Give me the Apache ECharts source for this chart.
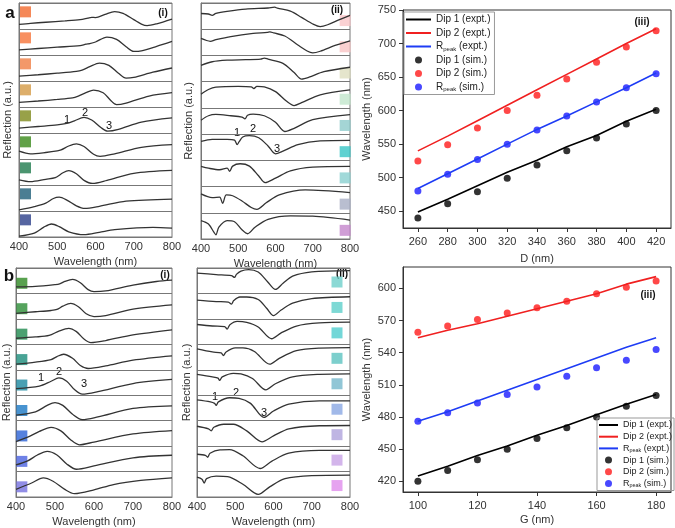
<!DOCTYPE html>
<html><head><meta charset="utf-8">
<script src="https://cdn.jsdelivr.net/npm/echarts@6/dist/echarts.min.js"></script>
<style>html,body{margin:0;padding:0;background:#fff}#c{width:675px;height:528px}</style>
</head><body><div id="c"></div>
<script>
// ---------- Spectra (row-local reflection, 0 = bottom of sub-panel, 1 = top) ----------
const aISpectra = [
 [[400,.18],[430,.22],[470,.26],[520,.31],[560,.36],[580,.42],[590,.45],[600,.44],[625,.56],[650,.67],[672,.6],[700,.36],[720,.19],[735,.13],[760,.2],[800,.38]],
 [[400,.2],[450,.25],[500,.3],[560,.36],[575,.42],[585,.44],[600,.5],[630,.69],[655,.6],[680,.32],[700,.14],[720,.16],[760,.33],[800,.52]],
 [[400,.19],[450,.24],[500,.3],[550,.37],[565,.42],[585,.55],[610,.69],[635,.6],[660,.3],[680,.11],[700,.14],[750,.34],[800,.5]],
 [[400,.18],[450,.23],[500,.29],[540,.35],[555,.42],[575,.55],[595,.65],[620,.55],[640,.25],[655,.09],[680,.15],[740,.42],[800,.55]],
 [[400,.19],[450,.25],[500,.31],[525,.37],[545,.47],[570,.6],[590,.5],[615,.2],[632,.07],[660,.14],[720,.42],[800,.58]],
 [[400,.3],[430,.2],[470,.25],[500,.31],[510,.35],[530,.5],[550,.58],[570,.48],[595,.18],[612,.1],[650,.2],[720,.45],[800,.55]],
 [[400,.2],[430,.13],[470,.22],[495,.28],[515,.47],[530,.55],[550,.43],[570,.18],[592,.06],[630,.18],[700,.45],[800,.56]],
 [[400,.04],[440,.17],[470,.3],[490,.48],[505,.53],[525,.42],[550,.2],[572,.1],[610,.18],[680,.38],[800,.46]],
 [[400,.03],[440,.15],[465,.38],[485,.5],[505,.4],[530,.2],[570,.09],[610,.18],[650,.28],[750,.37],[800,.34]]
];
const aIISpectra = [
 [[400,.6],[420,.58],[430,.53],[440,.6],[470,.68],[520,.77],[580,.81],[598,.84],[605,.8],[640,.69],[670,.45],[700,.2],[720,.1],[740,.17],[770,.36],[800,.53]],
 [[400,.65],[415,.57],[425,.54],[440,.6],[480,.72],[540,.84],[578,.88],[585,.9],[595,.86],[625,.74],[660,.4],[685,.17],[700,.1],[720,.16],[760,.38],[800,.56]],
 [[400,.62],[430,.76],[470,.82],[520,.84],[560,.86],[570,.9],[580,.86],[620,.7],[650,.35],[670,.1],[690,.17],[730,.38],[800,.55]],
 [[400,.52],[420,.7],[440,.79],[500,.82],[535,.8],[542,.74],[550,.82],[570,.8],[600,.62],[630,.25],[650,.09],[670,.2],[720,.5],[800,.69]],
 [[400,.53],[420,.7],[440,.75],[480,.7],[510,.65],[518,.58],[525,.72],[540,.76],[570,.7],[600,.45],[625,.1],[650,.22],[700,.55],[800,.74]],
 [[400,.72],[430,.8],[470,.8],[490,.77],[497,.6],[502,.7],[512,.89],[530,.94],[555,.86],[580,.55],[600,.25],[620,.35],[660,.6],[720,.74],[800,.76]],
 [[400,.77],[420,.7],[450,.64],[470,.7],[477,.58],[485,.78],[505,.87],[530,.78],[555,.4],[572,.15],[600,.32],[640,.6],[700,.74],[800,.77]],
 [[400,.72],[430,.58],[450,.6],[458,.36],[468,.68],[485,.65],[510,.45],[535,.2],[550,.13],[575,.38],[610,.68],[680,.87],[800,.77]],
 [[400,.7],[420,.57],[435,.25],[440,.16],[448,.45],[470,.7],[490,.66],[510,.35],[525,.2],[545,.45],[580,.75],[640,.88],[700,.87],[800,.72]]
];
const bISpectra = [
 [[400,.26],[450,.28],[500,.35],[512,.38],[525,.47],[545,.55],[565,.42],[585,.15],[600,.07],[630,.1],[700,.33],[760,.47],[800,.52]],
 [[400,.22],[450,.28],[490,.33],[505,.37],[520,.5],[540,.61],[560,.48],[580,.2],[600,.09],[630,.13],[700,.38],[800,.55]],
 [[400,.24],[450,.29],[485,.35],[510,.52],[535,.63],[555,.5],[575,.2],[592,.07],[630,.15],[700,.37],[800,.57]],
 [[400,.22],[450,.3],[490,.4],[505,.52],[522,.61],[545,.45],[565,.17],[585,.05],[630,.15],[700,.38],[800,.55]],
 [[400,.26],[460,.36],[490,.55],[510,.68],[530,.55],[550,.22],[570,.04],[610,.14],[700,.46],[800,.62]],
 [[400,.22],[450,.35],[480,.6],[500,.71],[520,.6],[545,.25],[570,.04],[610,.15],[700,.48],[800,.58]],
 [[400,.18],[430,.35],[460,.58],[490,.74],[515,.6],[540,.25],[562,.05],[600,.16],[700,.48],[800,.61]],
 [[400,.26],[430,.42],[455,.65],[480,.79],[505,.65],[530,.3],[555,.09],[600,.22],[700,.54],[800,.64]],
 [[400,.3],[440,.55],[470,.75],[495,.62],[525,.3],[550,.13],[600,.28],[650,.49],[720,.65],[800,.75]]
];
const bIISpectra = [
 [[400,.8],[450,.74],[490,.7],[498,.63],[503,.75],[515,.88],[535,.94],[560,.84],[585,.45],[605,.16],[625,.4],[650,.68],[700,.85],[800,.9]],
 [[400,.74],[450,.68],[482,.66],[490,.58],[496,.72],[512,.86],[530,.86],[560,.76],[582,.42],[600,.13],[620,.35],[650,.62],[700,.8],[800,.87]],
 [[400,.78],[440,.72],[472,.7],[479,.6],[486,.77],[505,.9],[530,.86],[560,.68],[595,.22],[620,.45],[660,.72],[720,.84],[800,.87]],
 [[400,.82],[440,.7],[463,.66],[469,.56],[476,.7],[500,.86],[520,.86],[550,.72],[590,.22],[615,.45],[660,.75],[720,.85],[800,.87]],
 [[400,.82],[440,.72],[455,.67],[459,.58],[466,.72],[495,.86],[515,.84],[545,.66],[580,.21],[605,.45],[650,.72],[720,.82],[800,.84]],
 [[400,.82],[435,.74],[446,.68],[450,.6],[456,.74],[485,.9],[510,.88],[540,.68],[575,.13],[600,.38],[640,.65],[720,.78],[800,.78]],
 [[400,.78],[430,.68],[437,.6],[444,.74],[470,.86],[495,.86],[530,.6],[570,.17],[600,.4],[640,.68],[720,.8],[800,.81]],
 [[400,.68],[422,.64],[428,.56],[434,.72],[460,.85],[485,.86],[520,.62],[565,.12],[595,.4],[640,.72],[720,.83],[800,.83]],
 [[400,.78],[413,.7],[419,.55],[425,.72],[450,.82],[480,.8],[520,.5],[560,.1],[590,.4],[630,.72],[700,.84],[800,.86]]
];
// colour swatches (top row first)
const aIColors  = ['#F26A2E','#F6743A','#F07E44','#D49A45','#7E8A1A','#3A8A1A','#1E7A4C','#1E5E78','#2C3E8A'];
const aIIColors = ['#F9C5C8','#F9C4C4','#DEDFBF','#C2E6CC','#8DCACA','#38C6C6','#8ACFCF','#A8AEC4','#C486CC'];
const bIColors  = ['#2E8A22','#2A8C35','#1E8A4E','#1A8C7A','#1A88A0','#1A78C4','#2A62D6','#4A62E0','#7670E0'];
const bIIColors = ['#6ECFCB','#5ED0CB','#50CDCE','#5DC3C0','#75B8CC','#8AA8E4','#AFA2DC','#C8A2E6','#E08CEC'];

// ---------- (a)(iii): wavelength vs D ----------
const D = [260,280,300,320,340,360,380,400,420];
const aDip1Expt  = [449,468,488,508,526,546,563,584,602];
const aDip2Expt  = [540,562,585,608,631,654,677,700,722];
const aRpeakExpt = [484,506,528,550,572,592,613,634,656];
const aDip1Sim   = [440,461,479,499,519,540,559,580,600];
const aDip2Sim   = [525,549,574,600,623,647,672,695,719];
const aRpeakSim  = [480,505,527,550,571,592,613,634,655];
const aXTicks = [260,280,300,320,340,360,380,400,420];
const aYTicks = [450,500,550,600,650,700,750];

// ---------- (b)(iii): wavelength vs G ----------
const G = [100,110,120,130,140,150,160,170,180];
const bDip1Expt  = [425,434,444,453,463,472,482,492,501];
const bDip2Expt  = [554,561,567,574,581,588,595,604,611];
const bRpeakExpt = [476,485,495,505,515,525,535,545,554];
const bDip1Sim   = [420,430,440,450,460,470,480,490,500];
const bDip2Sim   = [559,565,571,577,582,588,595,601,607];
const bRpeakSim  = [476,484,493,501,508,518,526,533,543];
const bXTicks = [100,120,140,160,180];
const bYTicks = [420,450,480,510,540,570,600];

const legendNames = ['Dip 1 (expt.)','Dip 2 (expt.)','Rpeak (expt.)','Dip 1 (sim.)','Dip 2 (sim.)','Rpeak (sim.)'];

// ---------- build ----------
const FONT = 'Liberation Sans, Arial, sans-serif';
const TXT = '#333';
const chart = echarts.init(document.getElementById('c'));

const grids = [
  {left:19,  top:3,   width:153, height:234},
  {left:201, top:3,   width:149, height:236},
  {left:16,  top:268, width:156, height:231},
  {left:197, top:268, width:153, height:231},
  {left:403, top:10,  width:268, height:218},
  {left:403, top:267, width:268, height:225}
].map((g,i)=>Object.assign({show:true, borderColor: i<4 ? '#777' : '#333', borderWidth:1, containLabel:false}, g));

const specPanels = [
  {spectra:aISpectra,  colors:aIColors,  sqX:417, sqV:0.66, yGap:6},
  {spectra:aIISpectra, colors:aIIColors, sqX:787, sqV:0.33, yGap:7},
  {spectra:bISpectra,  colors:bIColors,  sqX:415, sqV:0.40, yGap:4},
  {spectra:bIISpectra, colors:bIIColors, sqX:766, sqV:0.45, yGap:5}
];

const xAxis = [], yAxis = [], series = [];
specPanels.forEach((p, i) => {
  xAxis.push({gridIndex:i, type:'value', min:400, max:800, interval:100,
    axisLine:{lineStyle:{color:'#777'}}, axisTick:{show:false}, splitLine:{show:false},
    axisLabel:{fontSize:11, color:TXT, fontFamily:FONT, margin:4},
    name:'Wavelength (nm)', nameLocation:'middle', nameGap:19,
    nameTextStyle:{fontSize:11, color:TXT, fontFamily:FONT}});
  yAxis.push({gridIndex:i, type:'value', min:0, max:9, interval:1,
    axisLine:{show:true, lineStyle:{color:'#777'}}, axisTick:{show:false}, axisLabel:{show:false},
    splitLine:{show:true, lineStyle:{color:'#777', width:1}},
    name:'Reflection (a.u.)', nameLocation:'middle', nameGap:p.yGap,
    nameTextStyle:{fontSize:11, color:TXT, fontFamily:FONT}});
  p.spectra.forEach((row, k) => {
    series.push({type:'line', xAxisIndex:i, yAxisIndex:i, silent:true, symbol:'none', smooth:0.3,
      lineStyle:{color:'#333', width:1.3},
      data: row.map(([w, v]) => [w, 8 - k + v])});
  });
  series.push({type:'scatter', xAxisIndex:i, yAxisIndex:i, silent:true, symbol:'rect', symbolSize:11,
    data: p.colors.map((c, k) => ({value:[p.sqX, 8 - k + p.sqV], itemStyle:{color:c}}))});
});

const axisCommonX = (gi, min, max, ticks, name, gap) => ({gridIndex:gi, type:'value', min, max,
  axisLine:{lineStyle:{color:'#333'}},
  axisTick:{show:true, customValues:ticks, length:4, lineStyle:{color:'#333'}},
  axisLabel:{customValues:ticks, fontSize:11, color:TXT, fontFamily:FONT, margin:8},
  splitLine:{show:false}, name, nameLocation:'middle', nameGap:gap,
  nameTextStyle:{fontSize:11, color:TXT, fontFamily:FONT}});
const axisCommonY = (gi, min, max, ticks) => ({gridIndex:gi, type:'value', min, max,
  axisLine:{show:true, lineStyle:{color:'#333'}},
  axisTick:{show:true, customValues:ticks, length:4, lineStyle:{color:'#333'}},
  axisLabel:{customValues:ticks, fontSize:11, color:TXT, fontFamily:FONT, margin:7},
  splitLine:{show:false}, name:'Wavelength (nm)', nameLocation:'middle', nameGap:31,
  nameTextStyle:{fontSize:11, color:TXT, fontFamily:FONT}});

xAxis.push(axisCommonX(4, 250, 430, aXTicks, 'D (nm)', 25));
yAxis.push(axisCommonY(4, 425, 750, aYTicks));
xAxis.push(axisCommonX(5, 95, 185, bXTicks, 'G (nm)', 22));
yAxis.push(axisCommonY(5, 410, 620, bYTicks));

const lineCol = {'Dip 1':'#000000', 'Dip 2':'#F02020', 'Rpeak':'#1E3CF5'};
const dotCol  = {'Dip 1':'#000000', 'Dip 2':'#FF1A1A', 'Rpeak':'#1A1AFF'};
function addIII(ai, xs, e1, e2, e3, s1, s2, s3) {
  [['Dip 1', e1], ['Dip 2', e2], ['Rpeak', e3]].forEach(([n, arr]) => {
    series.push({type:'line', name:n + ' (expt.)', xAxisIndex:ai, yAxisIndex:ai, symbol:'none',
      lineStyle:{color:lineCol[n], width:1.6}, itemStyle:{color:lineCol[n]},
      data: xs.map((x, j) => [x, arr[j]])});
  });
  [['Dip 1', s1], ['Dip 2', s2], ['Rpeak', s3]].forEach(([n, arr]) => {
    series.push({type:'scatter', name:n + ' (sim.)', xAxisIndex:ai, yAxisIndex:ai, symbolSize:7,
      itemStyle:{color:dotCol[n]}, data: xs.map((x, j) => [x, arr[j]])});
  });
}
addIII(4, D, aDip1Expt, aDip2Expt, aRpeakExpt, aDip1Sim, aDip2Sim, aRpeakSim);
addIII(5, G, bDip1Expt, bDip2Expt, bRpeakExpt, bDip1Sim, bDip2Sim, bRpeakSim);

const fmt = n => n.startsWith('Rpeak') ? 'R{s|peak}' + n.slice(5) : n;
const legData = legendNames.map(n => n.includes('sim') ? {name:n, icon:'circle'}
  : {name:n, itemStyle:{color:'rgba(0,0,0,0)', borderWidth:0, opacity:0}});
function legend(left, top, fs, lh, gap, iw, pad) {
  return {orient:'vertical', left, top, itemWidth:iw, itemHeight:7, itemGap:gap,
    borderColor:'#999', borderWidth:1, padding:pad, selectedMode:false,
    textStyle:{fontSize:fs, lineHeight:lh, color:'#222', fontFamily:FONT,
      rich:{s:{fontSize:fs*0.6, lineHeight:fs*0.6, verticalAlign:'bottom', fontFamily:FONT, color:'#222'}}},
    formatter: fmt, data: legData};
}

const T = (text, x, y, size, bold) => ({type:'text', x, y, silent:true,
  style:{text, fontSize:size, fontWeight: bold ? 'bold' : 'normal', fontFamily:FONT, fill:'#111', align:'center', verticalAlign:'middle'}});

chart.setOption({
  animation:false,
  backgroundColor:'#fff',
  grid: grids, xAxis, yAxis, series,
  legend: [legend(404, 12, 10, 11, 2.5, 25, [2,4,2,1]), legend(597, 418, 9, 10, 1.7, 19, [2,2,2,1])],
  graphic: [
    T('a', 10, 13, 17, true), T('b', 9, 276, 17, true),
    T('(i)', 163, 13, 10, true), T('(ii)', 337, 10, 10, true), T('(iii)', 642, 22, 10, true),
    T('(i)', 165, 275, 10, true), T('(ii)', 342, 274, 10, true), T('(iii)', 648, 295, 10, true),
    T('1', 67, 120, 11), T('2', 85, 113, 11), T('3', 109, 126, 11),
    T('1', 237, 133, 11), T('2', 253, 129, 11), T('3', 277, 149, 11),
    T('1', 41, 378, 11), T('2', 59, 372, 11), T('3', 84, 384, 11),
    T('1', 215, 397, 11), T('2', 236, 393, 11), T('3', 264, 413, 11)
  ]
});
</script></body></html>
